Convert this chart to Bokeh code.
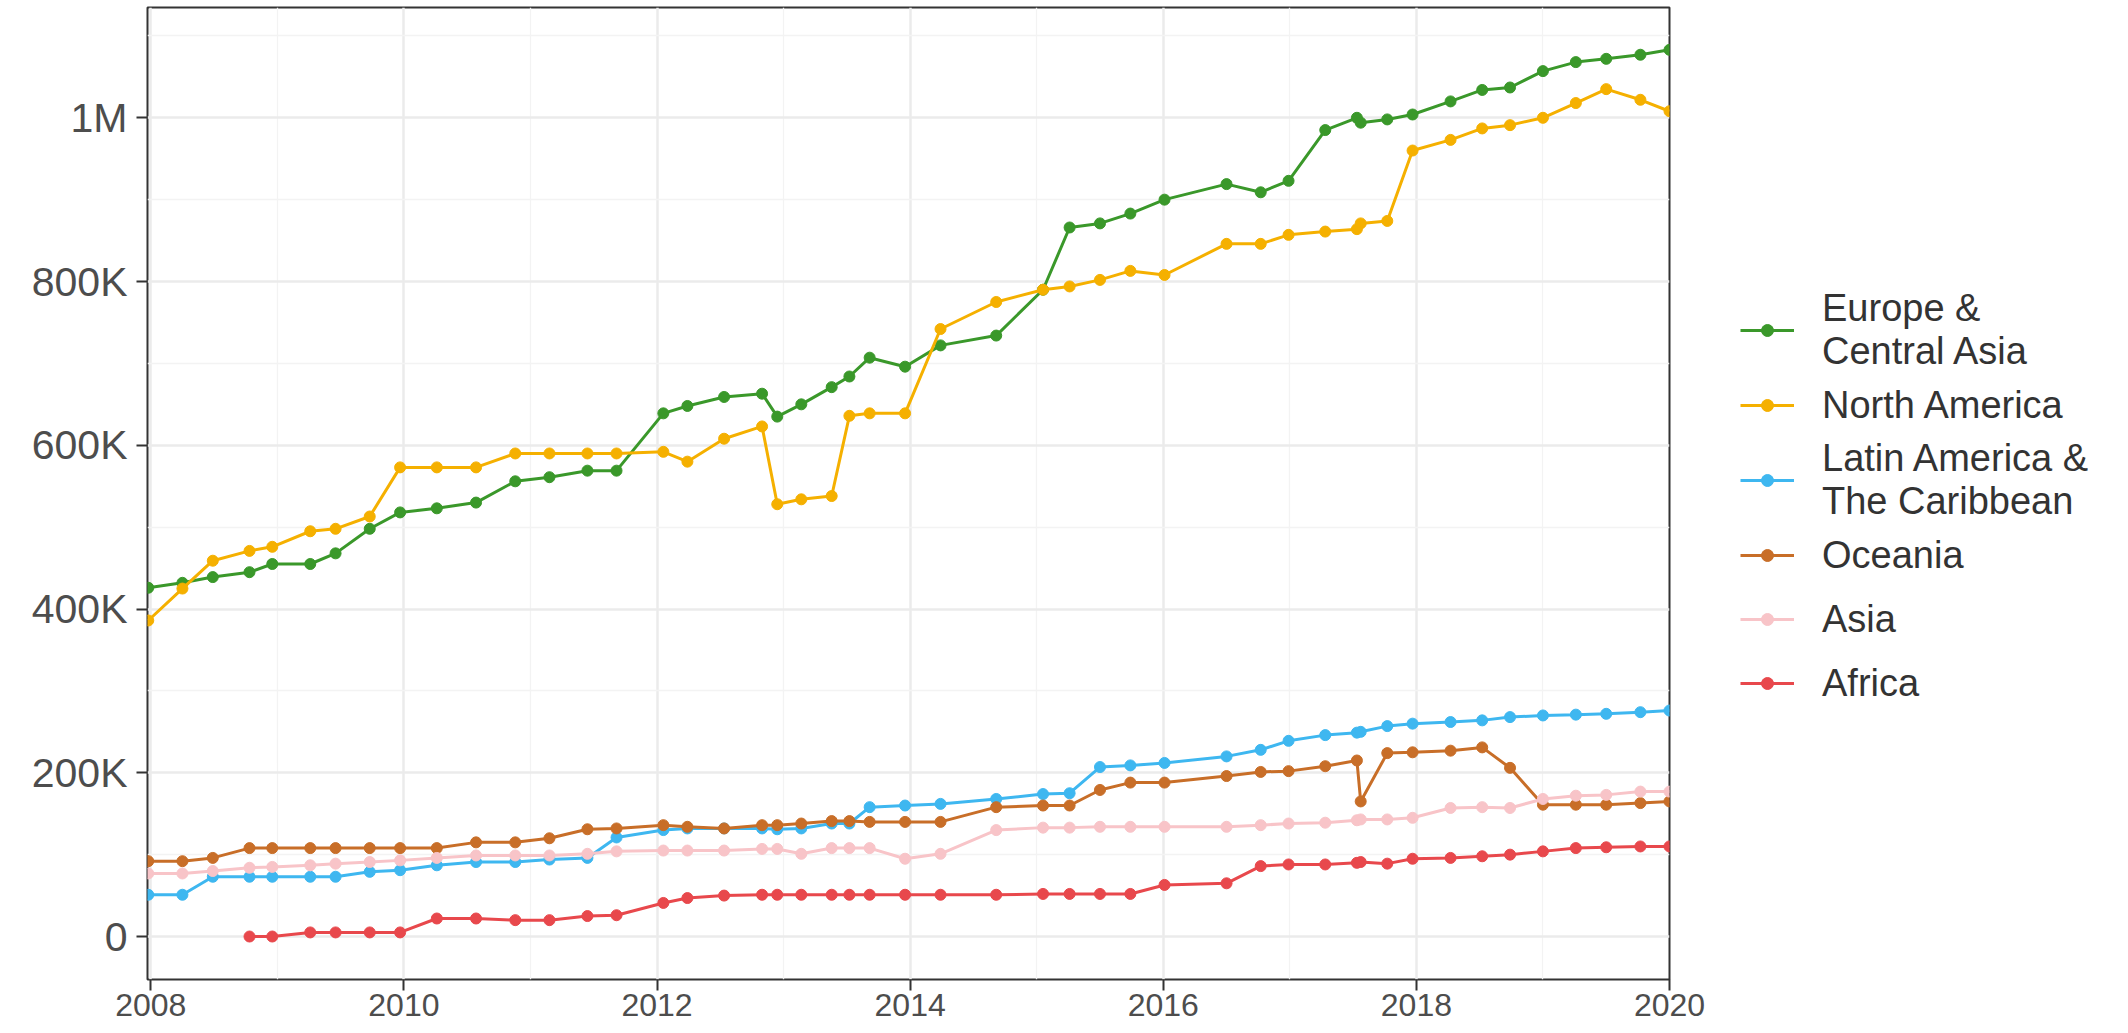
from bokeh.plotting import figure
from bokeh.models import FixedTicker, Legend, LegendItem, Range1d
from bokeh.embed import file_html
from bokeh.resources import INLINE

# ---- data (values in thousands) ----
dates = [2007.98, 2008.25, 2008.49, 2008.78, 2008.96, 2009.26, 2009.46, 2009.73, 2009.97,
         2010.26, 2010.57, 2010.88, 2011.15, 2011.45, 2011.68, 2012.05, 2012.24, 2012.53,
         2012.83, 2012.95, 2013.14, 2013.38, 2013.52, 2013.68, 2013.96, 2014.24, 2014.68,
         2015.05, 2015.26, 2015.50, 2015.74, 2016.01, 2016.50, 2016.77, 2016.99, 2017.28,
         2017.53, 2017.56, 2017.77, 2017.97, 2018.27, 2018.52, 2018.74, 2019.00, 2019.26,
         2019.50, 2019.77, 2020.00]

europe = [426, 432, 439, 445, 455, 455, 468, 498, 518, 523, 530, 556, 561, 569, 569, 639,
          648, 659, 663, 635, 650, 671, 684, 707, 696, 722, 734, 790, 866, 871, 883, 900,
          919, 909, 923, 985, 1000, 994, 998, 1004, 1020, 1034, 1037, 1057, 1068, 1072,
          1077, 1083]

north_america = [386, 425, 459, 471, 476, 495, 498, 513, 573, 573, 573, 590, 590, 590, 590,
                 592, 580, 608, 623, 528, 534, 538, 636, 639, 639, 742, 775, 790, 794, 802,
                 813, 808, 846, 846, 857, 861, 864, 871, 874, 960, 973, 987, 991, 1000, 1018,
                 1035, 1022, 1008]

latin_america = [51, 51, 73, 73, 73, 73, 73, 79, 81, 87, 91, 91, 94, 96, 121, 130, 132, 132,
                 132, 131, 132, 138, 138, 158, 160, 162, 168, 174, 175, 207, 209, 212, 220,
                 228, 239, 246, 249, 250, 257, 260, 262, 264, 268, 270, 271, 272, 274, 276]

oceania = [92, 92, 96, 108, 108, 108, 108, 108, 108, 108, 115, 115, 120, 131, 132, 136, 134,
           132, 136, 136, 138, 141, 141, 140, 140, 140, 158, 160, 160, 179, 188, 188, 196,
           201, 202, 208, 215, 165, 224, 225, 227, 231, 206, 161, 161, 161, 163, 165]

asia = [77, 77, 80, 84, 85, 87, 89, 91, 93, 96, 99, 99, 99, 101, 104, 105, 105, 105, 107, 107,
        101, 108, 108, 108, 95, 101, 130, 133, 133, 134, 134, 134, 134, 136, 138, 139, 142,
        143, 143, 145, 157, 158, 157, 168, 172, 173, 177, 177]

africa = [None, None, None, 0, 0, 5, 5, 5, 5, 22, 22, 20, 20, 25, 26, 41, 47, 50, 51, 51, 51,
          51, 51, 51, 51, 51, 51, 52, 52, 52, 52, 63, 65, 86, 88, 88, 90, 91, 89, 95, 96, 98,
          100, 104, 108, 109, 110, 110]

labels = ["Europe &\nCentral Asia", "North America", "Latin America &\nThe Caribbean",
          "Oceania", "Asia", "Africa"]
colors = ["#3A982A", "#F5B000", "#3EB7F0", "#C86E28", "#F8C4C8", "#E8484C"]
values = [europe, north_america, latin_america, oceania, asia, africa]

x_ticks = [2008, 2010, 2012, 2014, 2016, 2018, 2020]
x_minor = [2009, 2011, 2013, 2015, 2017, 2019]
y_ticks = [0, 200000, 400000, 600000, 800000, 1000000]
y_minor = [100000, 300000, 500000, 700000, 900000, 1100000]
y_tick_labels = ["0", "200K", "400K", "600K", "800K", "1M"]

FONT = "Liberation Sans"

p = figure(frame_width=1522, height=1032, output_backend="svg", toolbar_location=None,
           x_range=Range1d(2007.974, 2020.0), y_range=Range1d(-52500, 1134700),
           min_border_left=147, min_border_right=0, min_border_top=7,
           min_border_bottom=53, background_fill_color="white",
           border_fill_color="white")

p.outline_line_color = "#333333"
p.outline_line_width = 2

for g in (p.xgrid, p.ygrid):
    g.grid_line_color = "#EBEBEB"
    g.grid_line_width = 2.5
    g.minor_grid_line_color = "#F3F3F3"
    g.minor_grid_line_width = 1.3

p.xaxis.ticker = FixedTicker(ticks=x_ticks, minor_ticks=x_minor)
p.yaxis.ticker = FixedTicker(ticks=y_ticks, minor_ticks=y_minor)
p.xaxis.major_label_overrides = {t: str(t) for t in x_ticks}
p.yaxis.major_label_overrides = {t: l for t, l in zip(y_ticks, y_tick_labels)}

for ax in (p.xaxis, p.yaxis):
    ax.axis_line_color = None
    ax.major_tick_line_color = "#333333"
    ax.major_tick_line_width = 2
    ax.major_tick_in = 0
    ax.major_tick_out = 11
    ax.minor_tick_line_color = None
    ax.major_label_text_font = FONT
    ax.major_label_text_color = "#4D4D4D"

p.xaxis.major_label_text_font_size = "32px"
p.xaxis.major_label_standoff = 3
p.yaxis.major_label_text_font_size = "41px"
p.yaxis.major_label_standoff = 9

items = []
for label, vals, color in zip(labels, values, colors):
    xs = [d for d, v in zip(dates, vals) if v is not None]
    ys = [v * 1000 for v in vals if v is not None]
    r1 = p.line(xs, ys, line_color=color, line_width=3)
    r2 = p.scatter(xs, ys, size=11, fill_color=color, line_color=color)
    items.append(LegendItem(label=label, renderers=[r1, r2]))

legend = Legend(items=items, location=(71, 264), margin=0, padding=10, spacing=0,
                glyph_width=54, glyph_height=30, label_height=64, label_standoff=28,
                label_text_font=FONT, label_text_font_size="38px",
                label_text_color="#333333", label_text_line_height=1.05,
                border_line_color=None, background_fill_alpha=0)
p.add_layout(legend, "right")

open("out.html", "w").write(file_html(p, INLINE))
